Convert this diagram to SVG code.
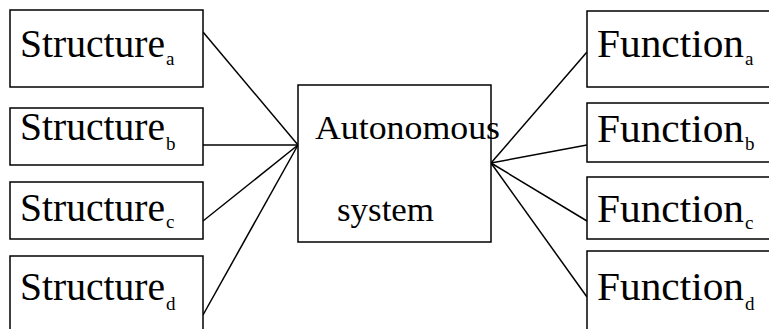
<svg xmlns="http://www.w3.org/2000/svg" width="769" height="329" viewBox="0 0 769 329">
<style>
.box{fill:#fff;stroke:#000;stroke-width:1.5}
.t{font-family:"Liberation Serif","DejaVu Serif",serif;font-size:39px;fill:#000}
.s{font-family:"Liberation Serif","DejaVu Serif",serif;font-size:19px;fill:#000}
.c{font-family:"Liberation Serif","DejaVu Serif",serif;font-size:34px;fill:#000}
.ln{stroke:#000;stroke-width:1.5;fill:none}
</style>
<g id="connectors">
<line class="ln" x1="203" y1="32" x2="298" y2="145"/>
<line class="ln" x1="203" y1="145" x2="298" y2="145"/>
<line class="ln" x1="203" y1="221" x2="298" y2="145"/>
<line class="ln" x1="203" y1="315" x2="298" y2="145"/>
<line class="ln" x1="587" y1="52" x2="491" y2="163"/>
<line class="ln" x1="587" y1="145" x2="491" y2="163"/>
<line class="ln" x1="587" y1="221" x2="491" y2="163"/>
<line class="ln" x1="587" y1="297" x2="491" y2="163"/>
</g>
<g id="center">
<rect class="box" x="298" y="85" width="193" height="157"/>
<text class="c" x="315" y="139" textLength="185" lengthAdjust="spacingAndGlyphs">Autonomous</text>
<text class="c" x="337" y="221" textLength="97" lengthAdjust="spacingAndGlyphs">system</text>
</g>
<g id="structure_a">
<rect class="box" x="10" y="10" width="193" height="77"/>
<text class="t" x="20" y="57" textLength="145" lengthAdjust="spacingAndGlyphs">Structure</text>
<text class="s" x="166" y="65">a</text>
</g>
<g id="structure_b">
<rect class="box" x="10" y="108" width="193" height="57"/>
<text class="t" x="20" y="140" textLength="145" lengthAdjust="spacingAndGlyphs">Structure</text>
<text class="s" x="166" y="150">b</text>
</g>
<g id="structure_c">
<rect class="box" x="10" y="182" width="193" height="57"/>
<text class="t" x="20" y="221" textLength="145" lengthAdjust="spacingAndGlyphs">Structure</text>
<text class="s" x="166" y="228">c</text>
</g>
<g id="structure_d">
<rect class="box" x="10" y="256" width="193" height="90"/>
<text class="t" x="20" y="300" textLength="145" lengthAdjust="spacingAndGlyphs">Structure</text>
<text class="s" x="166" y="310">d</text>
</g>
<g id="function_a">
<rect class="box" x="587" y="11" width="200" height="76"/>
<text class="t" x="597" y="57" textLength="147" lengthAdjust="spacingAndGlyphs">Function</text>
<text class="s" x="745" y="65">a</text>
</g>
<g id="function_b">
<rect class="box" x="587" y="103" width="200" height="59"/>
<text class="t" x="597" y="142" textLength="147" lengthAdjust="spacingAndGlyphs">Function</text>
<text class="s" x="745" y="150">b</text>
</g>
<g id="function_c">
<rect class="box" x="587" y="177" width="200" height="62"/>
<text class="t" x="597" y="222" textLength="147" lengthAdjust="spacingAndGlyphs">Function</text>
<text class="s" x="745" y="229">c</text>
</g>
<g id="function_d">
<rect class="box" x="587" y="251" width="200" height="95"/>
<text class="t" x="597" y="300" textLength="147" lengthAdjust="spacingAndGlyphs">Function</text>
<text class="s" x="745" y="310">d</text>
</g>
</svg>
